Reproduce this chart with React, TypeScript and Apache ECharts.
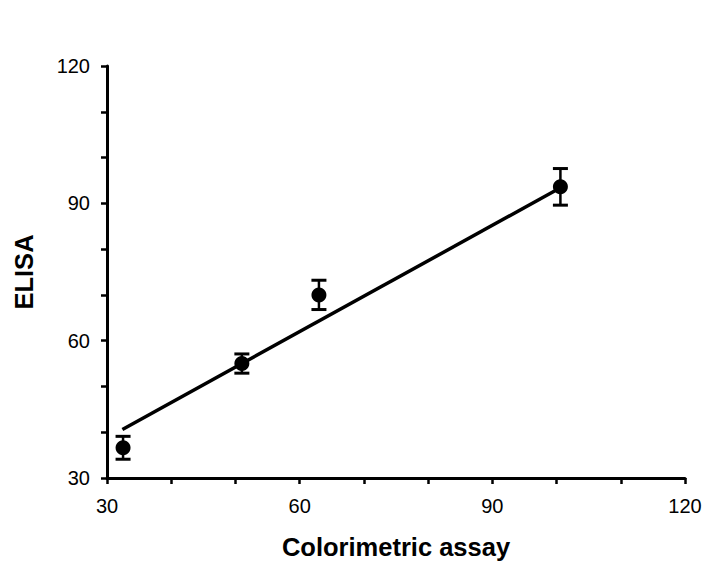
import React, { useEffect, useRef } from "react";
import * as echarts from "echarts";

const xValues = [32.5, 51, 63, 100.6];
const yValues = [36.6, 55.0, 70.0, 93.6];
const yErrors = [2.5, 2.1, 3.2, 4.0];
const fitLine = [
  [32.4, 40.6],
  [100.6, 93.4],
];
const axisMin = 30;
const axisMax = 120;
const tickStep = 10;
const labelStep = 30;
const xTitle = "Colorimetric assay";
const yTitle = "ELISA";

const FONT = '"Liberation Sans", Arial, sans-serif';

export default function App() {
  const ref = useRef<HTMLDivElement>(null);

  useEffect(() => {
    if (!ref.current) return;
    const chart = echarts.init(ref.current, undefined, { renderer: "svg" });

    const points = xValues.map((x, i) => [x, yValues[i]]);
    const errData = xValues.map((x, i) => [x, yValues[i], yErrors[i]]);

    const axisCommon = (name: string, gap: number) => ({
      type: "value" as const,
      min: axisMin,
      max: axisMax,
      interval: tickStep,
      name,
      nameLocation: "middle" as const,
      nameGap: gap,
      nameTextStyle: {
        fontFamily: FONT,
        fontWeight: "bold" as const,
        fontSize: 25.5,
        color: "#000",
      },
      axisLine: { show: true, lineStyle: { color: "#000", width: 3 } },
      axisTick: { show: true, inside: false, length: 6, lineStyle: { color: "#000", width: 2.5 } },
      splitLine: { show: false },
      axisLabel: {
        fontFamily: FONT,
        fontSize: 20,
        color: "#000",
        formatter: (v: number) => (v % labelStep === 0 ? String(v) : ""),
      },
    });

    const xAxis: any = axisCommon(xTitle, 56);
    xAxis.axisLabel.margin = 18;
    const yAxis: any = axisCommon(yTitle, 70);
    yAxis.axisLabel.margin = 17;

    chart.setOption({
      animation: false,
      backgroundColor: "#fff",
      grid: { left: 107, right: 22, top: 66, bottom: 88, containLabel: false },
      xAxis,
      yAxis,
      series: [
        {
          type: "line",
          data: fitLine,
          symbol: "none",
          lineStyle: { color: "#000", width: 3.5 },
          z: 2,
        },
        {
          type: "custom",
          data: errData,
          z: 3,
          renderItem: (params: any, api: any) => {
            const x = api.value(0);
            const y = api.value(1);
            const e = api.value(2);
            const top = api.coord([x, y + e]);
            const bot = api.coord([x, y - e]);
            const hw = 7.5;
            const style = { stroke: "#000", lineWidth: 2.5 };
            const capStyle = { stroke: "#000", lineWidth: 3 };
            return {
              type: "group",
              children: [
                { type: "line", shape: { x1: top[0], y1: top[1], x2: bot[0], y2: bot[1] }, style },
                { type: "line", shape: { x1: top[0] - hw, y1: top[1], x2: top[0] + hw, y2: top[1] }, style: capStyle },
                { type: "line", shape: { x1: bot[0] - hw, y1: bot[1], x2: bot[0] + hw, y2: bot[1] }, style: capStyle },
              ],
            };
          },
        },
        {
          type: "scatter",
          data: points,
          symbol: "circle",
          symbolSize: 15,
          itemStyle: { color: "#000", opacity: 1 },
          z: 4,
        },
      ],
    });

    return () => chart.dispose();
  }, []);

  return (
    <div
      ref={ref}
      style={{ position: "fixed", left: 0, top: 0, width: 707, height: 566, background: "#fff" }}
    />
  );
}
